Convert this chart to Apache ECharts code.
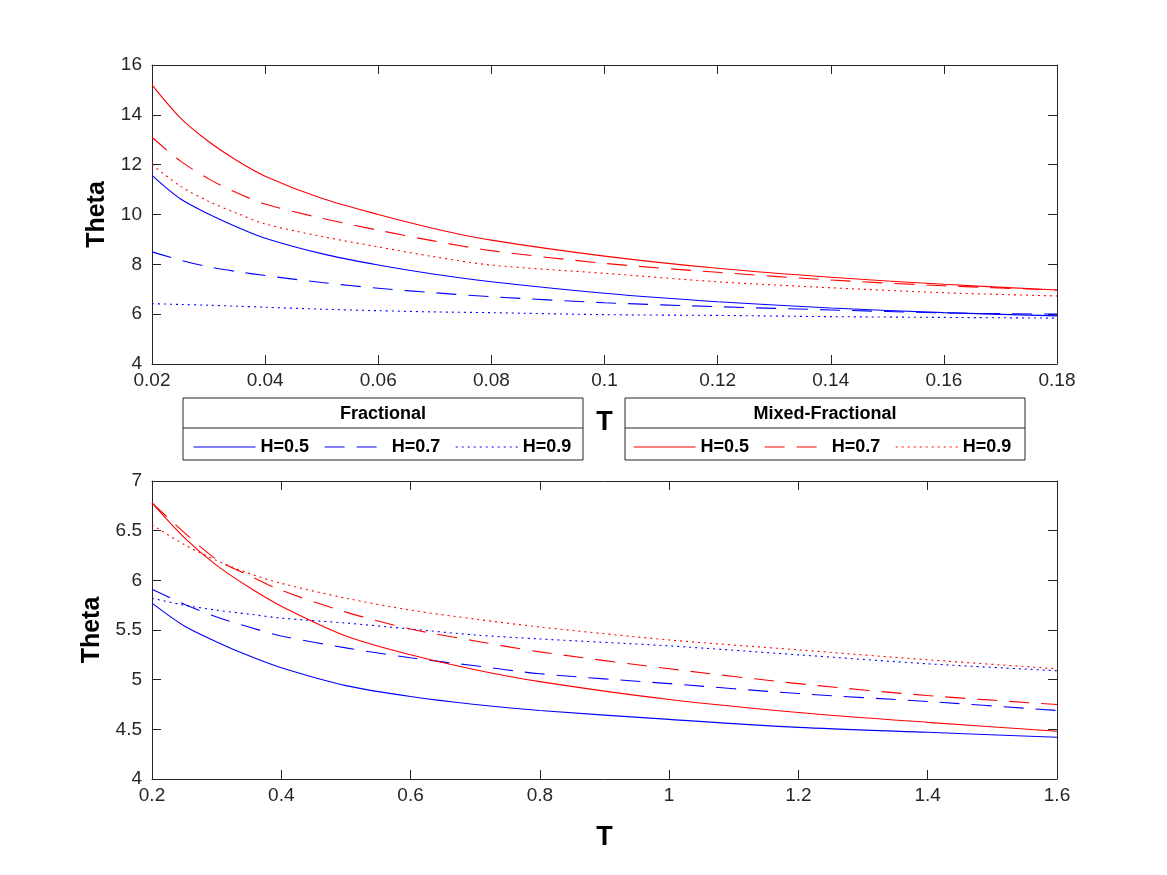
<!DOCTYPE html>
<html>
<head>
<meta charset="utf-8">
<script src="https://cdn.jsdelivr.net/npm/echarts@6/dist/echarts.min.js"></script>
<style>html,body{margin:0;padding:0;background:#fff;}#c{width:1167px;height:875px;}</style>
</head>
<body>
<div id="c"></div>
<script>
// ---- data ----
const T_TOP = [0.02, 0.025, 0.03, 0.035, 0.04, 0.05, 0.06, 0.07, 0.08, 0.1, 0.12, 0.14, 0.16, 0.18];
const FRAC_H05_TOP = [11.57, 10.63, 10.02, 9.5, 9.05, 8.43, 7.97, 7.6, 7.3, 6.84, 6.5, 6.25, 6.06, 5.93];
const FRAC_H07_TOP = [8.5, 8.17, 7.9, 7.71, 7.55, 7.27, 7.04, 6.86, 6.7, 6.46, 6.3, 6.17, 6.05, 6.0];
const FRAC_H09_TOP = [6.42, 6.39, 6.36, 6.32, 6.28, 6.2, 6.14, 6.09, 6.06, 5.98, 5.95, 5.9, 5.87, 5.84];
const MIX_H05_TOP = [15.2, 13.88, 12.93, 12.17, 11.54, 10.65, 10.0, 9.43, 8.97, 8.33, 7.84, 7.48, 7.2, 6.97];
const MIX_H07_TOP = [13.1, 12.15, 11.43, 10.87, 10.42, 9.85, 9.37, 8.93, 8.55, 8.04, 7.68, 7.37, 7.14, 6.97];
const MIX_H09_TOP = [12.0, 11.14, 10.53, 10.05, 9.62, 9.12, 8.7, 8.3, 7.97, 7.64, 7.3, 7.06, 6.86, 6.73];

const T_BOT = [0.2, 0.25, 0.3, 0.35, 0.4, 0.5, 0.6, 0.7, 0.8, 1.0, 1.2, 1.4, 1.6];
const FRAC_H05_BOT = [5.77, 5.54, 5.38, 5.24, 5.12, 4.94, 4.83, 4.75, 4.69, 4.6, 4.52, 4.47, 4.42];
const FRAC_H07_BOT = [5.91, 5.76, 5.63, 5.53, 5.44, 5.32, 5.22, 5.14, 5.06, 4.96, 4.86, 4.78, 4.69];
const FRAC_H09_BOT = [5.82, 5.75, 5.7, 5.66, 5.62, 5.57, 5.51, 5.45, 5.41, 5.34, 5.25, 5.16, 5.09];
const MIX_H05_BOT = [6.78, 6.43, 6.15, 5.93, 5.74, 5.44, 5.25, 5.1, 4.98, 4.8, 4.67, 4.57, 4.48];
const MIX_H07_BOT = [6.78, 6.48, 6.21, 6.05, 5.9, 5.68, 5.51, 5.39, 5.28, 5.11, 4.96, 4.84, 4.75];
const MIX_H09_BOT = [6.56, 6.36, 6.2, 6.07, 5.97, 5.82, 5.7, 5.61, 5.53, 5.4, 5.3, 5.2, 5.11];

const H_LABELS = ['H=0.5', 'H=0.7', 'H=0.9'];
const GROUP_FRAC = 'Fractional';
const GROUP_MIX = 'Mixed-Fractional';
const X_NAME = 'T';
const Y_NAME = 'Theta';

// ---- styling ----
const FONT = 'Liberation Sans, Arial, Helvetica, sans-serif';
const AXIS_COLOR = '#262626';
const BLUE = '#0000ff';
const RED = '#ff0000';
const DASH = [20, 12];
const DOT = [2, 4];
const STYLES = ['solid', DASH, DOT];

const chart = echarts.init(document.getElementById('c'), null, {renderer: 'canvas'});

function pairs(xs, ys) { return xs.map((x, i) => [x, ys[i]]); }

function mainX(gridIndex, min, max, interval) {
  return {
    type: 'value', gridIndex, position: 'bottom', min, max, interval,
    axisLine: {show: true, onZero: false, lineStyle: {color: AXIS_COLOR, width: 1}},
    axisTick: {show: true, inside: true, length: 9, lineStyle: {color: AXIS_COLOR}},
    axisLabel: {show: true, color: AXIS_COLOR, fontSize: 19, fontFamily: FONT, margin: 7},
    splitLine: {show: false},
    name: X_NAME, nameLocation: 'middle', nameGap: 45,
    nameTextStyle: {fontSize: 27, fontWeight: 'bold', color: '#000', fontFamily: FONT}
  };
}
function mirrorX(gridIndex, min, max, interval) {
  return {
    type: 'value', gridIndex, position: 'top', min, max, interval,
    axisLine: {show: true, onZero: false, lineStyle: {color: AXIS_COLOR, width: 1}},
    axisTick: {show: true, inside: true, length: 9, lineStyle: {color: AXIS_COLOR}},
    axisLabel: {show: false}, splitLine: {show: false}
  };
}
function mainY(gridIndex, min, max, interval) {
  return {
    type: 'value', gridIndex, position: 'left', min, max, interval,
    axisLine: {show: true, onZero: false, lineStyle: {color: AXIS_COLOR, width: 1}},
    axisTick: {show: true, inside: true, length: 9, lineStyle: {color: AXIS_COLOR}},
    axisLabel: {show: true, color: AXIS_COLOR, fontSize: 19, fontFamily: FONT, margin: 10},
    splitLine: {show: false},
    name: Y_NAME, nameLocation: 'middle', nameGap: 37, nameRotate: 90,
    nameTextStyle: {fontSize: 25, fontWeight: 'bold', color: '#000', fontFamily: FONT}
  };
}
function mirrorY(gridIndex, min, max, interval) {
  return {
    type: 'value', gridIndex, position: 'right', min, max, interval,
    axisLine: {show: true, onZero: false, lineStyle: {color: AXIS_COLOR, width: 1}},
    axisTick: {show: true, inside: true, length: 9, lineStyle: {color: AXIS_COLOR}},
    axisLabel: {show: false}, splitLine: {show: false}
  };
}

const TOP_SETS = [
  [GROUP_FRAC, BLUE, [FRAC_H05_TOP, FRAC_H07_TOP, FRAC_H09_TOP]],
  [GROUP_MIX, RED, [MIX_H05_TOP, MIX_H07_TOP, MIX_H09_TOP]]
];
const BOT_SETS = [
  [GROUP_FRAC, BLUE, [FRAC_H05_BOT, FRAC_H07_BOT, FRAC_H09_BOT]],
  [GROUP_MIX, RED, [MIX_H05_BOT, MIX_H07_BOT, MIX_H09_BOT]]
];

const series = [];
function addSeries(sets, xs, axisIndex) {
  sets.forEach(([group, color, arrs]) => {
    arrs.forEach((ys, k) => {
      series.push({
        type: 'line', name: group + ' ' + H_LABELS[k],
        xAxisIndex: axisIndex, yAxisIndex: axisIndex,
        data: pairs(xs, ys), smooth: 0.3,
        symbol: 'none', showSymbol: false,
        lineStyle: {color, width: 1.1, type: STYLES[k]},
        itemStyle: {color},
        animation: false, silent: true
      });
    });
  });
}
addSeries(TOP_SETS, T_TOP, 0);
addSeries(BOT_SETS, T_BOT, 2);

function legendFor(group, left) {
  return {
    data: H_LABELS.map(h => group + ' ' + h),
    left, top: 438, orient: 'horizontal', padding: 0,
    itemWidth: 62, itemHeight: 14, itemGap: 15, selectedMode: false,
    itemStyle: {opacity: 0},
    lineStyle: {width: 1.1},
    formatter: n => n.replace(group + ' ', ''),
    textStyle: {fontSize: 18, fontWeight: 'bold', color: '#000', fontFamily: FONT}
  };
}

function box(x, title) {
  return [
    {type: 'rect', shape: {x: x, y: 398, width: 400, height: 62}, style: {fill: '#fff', stroke: AXIS_COLOR, lineWidth: 1}, z: -10},
    {type: 'line', shape: {x1: x, y1: 428, x2: x + 400, y2: 428}, style: {stroke: AXIS_COLOR, lineWidth: 1}, z: -9},
    {type: 'text', x: x + 200, y: 414, style: {text: title, fill: '#000', font: 'bold 18px ' + FONT, textAlign: 'center', textVerticalAlign: 'middle'}, z: -9}
  ];
}

chart.setOption({
  backgroundColor: '#fff',
  animation: false,
  grid: [
    {left: 152, right: 110, top: 65, height: 299},
    {left: 152, right: 110, top: 481, height: 298}
  ],
  xAxis: [
    mainX(0, 0.02, 0.18, 0.02),
    mirrorX(0, 0.02, 0.18, 0.02),
    mainX(1, 0.2, 1.6, 0.2),
    mirrorX(1, 0.2, 1.6, 0.2)
  ],
  yAxis: [
    mainY(0, 4, 16, 2),
    mirrorY(0, 4, 16, 2),
    mainY(1, 4, 7, 0.5),
    mirrorY(1, 4, 7, 0.5)
  ],
  legend: [legendFor(GROUP_FRAC, 193), legendFor(GROUP_MIX, 633)],
  graphic: [...box(183, GROUP_FRAC), ...box(625, GROUP_MIX)],
  series
});
</script>
</body>
</html>
